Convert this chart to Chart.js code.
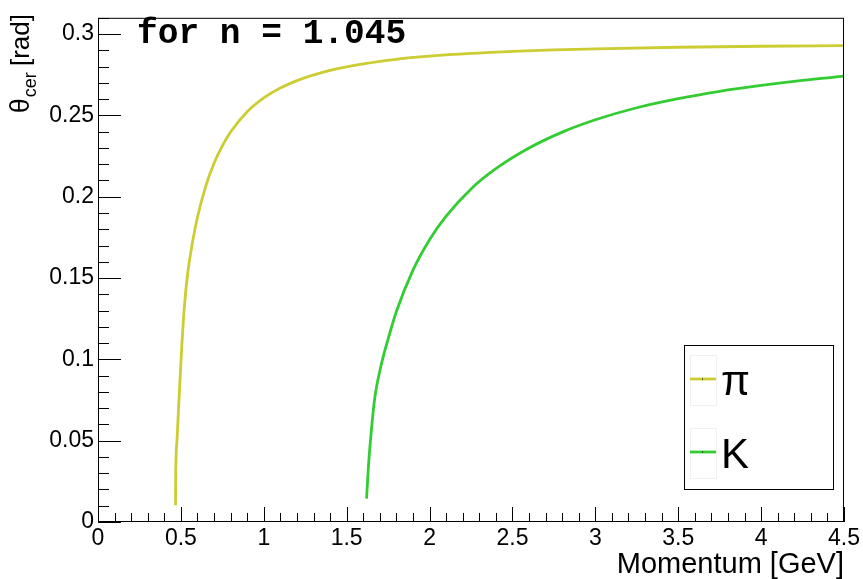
<!DOCTYPE html>
<html>
<head>
<meta charset="utf-8">
<script src="https://cdn.jsdelivr.net/npm/chart.js@4.4.0/dist/chart.umd.min.js"></script>
<style>
  body { margin: 0; background: #fff; }
  canvas { display: block; }
</style>
</head>
<body>
<canvas id="thetaChart" width="863" height="579"></canvas>
<script>
// Cherenkov angle (n = 1.045)
const piMomentum = [0.4675, 0.469, 0.477, 0.487, 0.497, 0.506, 0.52, 0.54, 0.57, 0.60, 0.65, 0.70, 0.75, 0.80, 0.90, 1.0, 1.1, 1.2, 1.4, 1.6, 1.8, 2.0, 2.25, 2.5, 2.75, 3.0, 3.5, 4.0, 4.5];
const piTheta = [0.0103, 0.030, 0.051, 0.072, 0.092, 0.109, 0.131, 0.152, 0.172, 0.1874, 0.2065, 0.2206, 0.2313, 0.2398, 0.2522, 0.2607, 0.2668, 0.2714, 0.2777, 0.2817, 0.2845, 0.2864, 0.2881, 0.2893, 0.2903, 0.2909, 0.2919, 0.2925, 0.2929];

const kMomentum = [1.620, 1.631, 1.647, 1.667, 1.68, 1.697, 1.72, 1.75, 1.80, 1.90, 2.0, 2.1, 2.25, 2.4, 2.6, 2.8, 3.0, 3.25, 3.5, 3.75, 4.0, 4.25, 4.5];
const kTheta = [0.0144, 0.0337, 0.054, 0.0743, 0.0830, 0.0915, 0.1015, 0.1125, 0.1294, 0.1549, 0.1736, 0.1880, 0.2048, 0.2172, 0.2299, 0.2397, 0.2473, 0.2547, 0.2603, 0.2648, 0.2684, 0.2715, 0.2741];

const xTickValues = [0, 0.5, 1, 1.5, 2, 2.5, 3, 3.5, 4, 4.5];
const yTickValues = [0, 0.05, 0.1, 0.15, 0.2, 0.25, 0.3];

const seriesLabels = ['π', 'K'];
const seriesColors = ['#cccc33', '#33cc33'];

const toPoints = (xs, ys) => xs.map((x, i) => ({ x: x, y: ys[i] }));

// marco, ticks hacia dentro y textos estilo ROOT
const rootStyle = {
  id: 'rootStyle',
  afterDraw(chart) {
    const ctx = chart.ctx;
    const area = chart.chartArea;
    const xs = chart.scales.x;
    const ys = chart.scales.y;

    ctx.save();
    ctx.strokeStyle = '#000';
    ctx.lineWidth = 1;
    ctx.strokeRect(area.left + 0.5, area.top + 0.5, area.right - area.left - 1, area.bottom - area.top - 1);

    ctx.beginPath();
    for (let i = 0; i <= 45; i++) {
      const px = Math.round(xs.getPixelForValue(i / 10)) + 0.5;
      const len = i % 5 === 0 ? 15 : 9;
      ctx.moveTo(px, area.bottom);
      ctx.lineTo(px, area.bottom - len);
    }
    for (let j = 0; j <= 31; j++) {
      const py = Math.round(ys.getPixelForValue(j / 100)) + 0.5;
      const len = j % 5 === 0 ? 23 : 11;
      ctx.moveTo(area.left, py);
      ctx.lineTo(area.left + len, py);
    }
    ctx.stroke();

    // texto
    ctx.fillStyle = '#000';
    ctx.textBaseline = 'alphabetic';
    ctx.font = 'bold 34.5px "Liberation Mono"';
    ctx.textAlign = 'left';
    ctx.fillText('for n = 1.045', 137, 43);

    ctx.font = '29px "Liberation Sans"';
    ctx.textAlign = 'right';
    ctx.fillText('Momentum [GeV]', area.right, 573);

    // titulo eje y (theta con subindice)
    ctx.font = '27px "Liberation Sans"';
    const wTheta = ctx.measureText('θ').width;
    ctx.font = '18px "Liberation Sans"';
    const wSub = ctx.measureText('cer').width;
    ctx.font = '26px "Liberation Sans"';
    const wRad = ctx.measureText(' [rad]').width;
    const total = wTheta + wSub + wRad;
    ctx.save();
    ctx.translate(29, 14 + total);
    ctx.rotate(-Math.PI / 2);
    ctx.textAlign = 'left';
    ctx.font = '27px "Liberation Sans"';
    ctx.fillText('θ', 0, 0);
    ctx.font = '18px "Liberation Sans"';
    ctx.fillText('cer', wTheta + 1, 7);
    ctx.font = '26px "Liberation Sans"';
    ctx.fillText(' [rad]', wTheta + wSub, 0);
    ctx.restore();

    // leyenda
    const lx = 684, ly = 345, lw = 149, lh = 144;
    ctx.fillStyle = '#fff';
    ctx.fillRect(lx, ly, lw, lh);
    ctx.strokeStyle = '#000';
    ctx.strokeRect(lx + 0.5, ly + 0.5, lw, lh);
    const rows = [379, 452];
    chart.data.datasets.forEach((ds, i) => {
      const yy = rows[i];
      ctx.strokeStyle = '#f0f0f0';
      ctx.lineWidth = 1;
      ctx.strokeRect(690.5, yy - 23.5, 26, 50);
      ctx.strokeStyle = ds.borderColor;
      ctx.lineWidth = 2.8;
      ctx.beginPath();
      ctx.moveTo(690, yy);
      ctx.lineTo(716, yy);
      ctx.stroke();
      ctx.fillStyle = '#000';
      ctx.fillRect(702, yy - 0.5, 1, 1);
      ctx.font = '42px "Liberation Sans"';
      ctx.textAlign = 'left';
      ctx.fillText(ds.label, 721, yy + 16);
    });
    ctx.restore();
  }
};

const ctx = document.getElementById('thetaChart').getContext('2d');

const thetaChart = new Chart(ctx, {
  type: 'line',
  data: {
    datasets: [
      {
        label: seriesLabels[0],
        data: toPoints(piMomentum, piTheta),
        borderColor: seriesColors[0],
        borderWidth: 2.8,
        pointRadius: 0,
        cubicInterpolationMode: 'monotone',
        fill: false
      },
      {
        label: seriesLabels[1],
        data: toPoints(kMomentum, kTheta),
        borderColor: seriesColors[1],
        borderWidth: 2.8,
        pointRadius: 0,
        cubicInterpolationMode: 'monotone',
        fill: false
      }
    ]
  },
  plugins: [rootStyle],
  options: {
    responsive: false,
    animation: false,
    layout: { padding: { top: 13, right: 17, left: 0, bottom: 0 } },
    plugins: {
      legend: { display: false },
      tooltip: { enabled: false }
    },
    scales: {
      x: {
        type: 'linear',
        min: 0,
        max: 4.5,
        grid: { display: false, drawTicks: false },
        border: { display: false },
        afterFit: s => { s.height = 57; },
        afterBuildTicks: s => { s.ticks = xTickValues.map(v => ({ value: v })); },
        ticks: {
          padding: 3,
          autoSkip: false,
          maxRotation: 0,
          color: '#000',
          font: { family: 'Liberation Sans', size: 23 },
          callback: v => String(v)
        }
      },
      y: {
        type: 'linear',
        min: 0,
        max: 0.31,
        grid: { display: false, drawTicks: false },
        border: { display: false },
        afterFit: s => { s.width = 98; },
        afterBuildTicks: s => { s.ticks = yTickValues.map(v => ({ value: v })); },
        ticks: {
          padding: 4,
          autoSkip: false,
          color: '#000',
          font: { family: 'Liberation Sans', size: 23 },
          callback: v => String(v)
        }
      }
    }
  }
});
</script>
</body>
</html>
